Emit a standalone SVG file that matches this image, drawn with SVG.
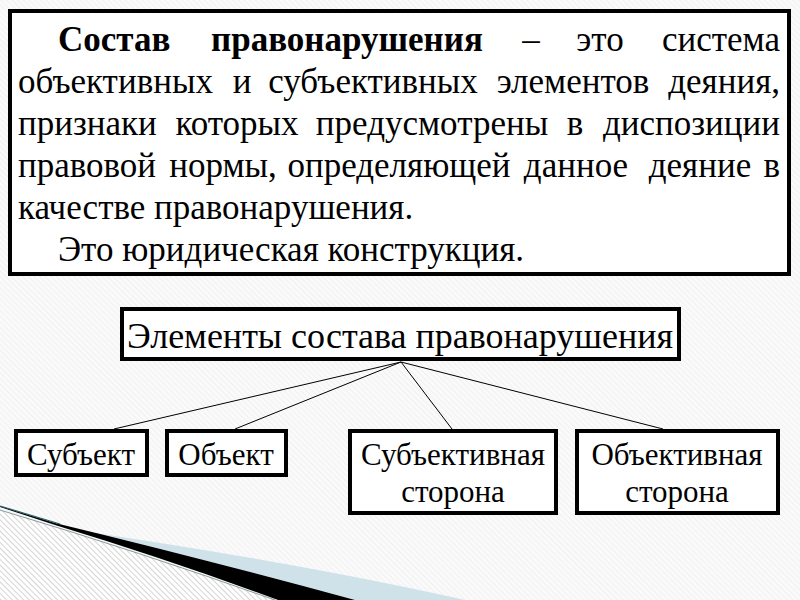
<svg xmlns="http://www.w3.org/2000/svg" width="800" height="600" viewBox="0 0 800 600">
  <defs>
    <pattern id="hatch" width="4" height="4" patternUnits="userSpaceOnUse" patternTransform="rotate(-45)">
      <rect width="4" height="4" fill="#fafafa"/>
      <line x1="0" y1="0" x2="0" y2="4" stroke="#ececec" stroke-width="1.2"/>
    </pattern>
    <pattern id="hatch2" width="4" height="4" patternUnits="userSpaceOnUse" patternTransform="rotate(-45)">
      <rect width="4" height="4" fill="#ffffff"/>
      <line x1="0" y1="0" x2="0" y2="4" stroke="#bdbdbd" stroke-width="1.3"/>
    </pattern>
    <style>
      .box { fill: #ffffff; stroke: #000000; stroke-width: 4; }
      .t { font-family: "Liberation Serif", "Times New Roman", serif; fill: #000000; }
      .main { font-size: 35px; }
      .b { font-weight: bold; }
      .lbl { font-size: 36px; }
      .sm { font-size: 31px; text-anchor: middle; }
      .mid { text-anchor: middle; }
      .end { text-anchor: end; }
      .conn line { stroke: #000000; stroke-width: 1; }
    </style>
  </defs>

  <!-- background -->
  <rect x="0" y="0" width="800" height="600" fill="url(#hatch)"/>
  <!-- bottom-left swoosh -->
  <path d="M0,510 Q140,552 275,600 L0,600 Z" fill="url(#hatch2)"/>
  <path d="M0,510 Q140,552 275,600" fill="none" stroke="#8a9a9f" stroke-width="1"/>
  <path d="M75,530 Q300,563 465,600 L355,600 Q230,565 75,530 Z" fill="#cfe2ea"/>
  <path d="M0,506 L55,523 Q200,558 355,600 L278,600 Q170,560 55,525 L0,507 Z" fill="#000000"/>
  <path d="M0,506 L60,524" stroke="#2f5f6a" stroke-width="1.2" fill="none"/>

  <!-- definition box -->
  <g id="definition">
    <rect class="box" x="10" y="11" width="779" height="263"/>
    <text class="t main b" x="58" y="51">Состав</text>
    <text class="t main b mid" x="347" y="51">правонарушения</text>
    <text class="t main mid" x="531" y="51">–</text>
    <text class="t main mid" x="600" y="51">это</text>
    <text class="t main end" x="780" y="51">система</text>

    <text class="t main" x="18" y="93">объективных</text>
    <text class="t main mid" x="242" y="93">и</text>
    <text class="t main mid" x="373" y="93">субъективных</text>
    <text class="t main mid" x="573" y="93">элементов</text>
    <text class="t main end" x="780" y="93">деяния,</text>

    <text class="t main" x="18" y="135">признаки</text>
    <text class="t main mid" x="237" y="135">которых</text>
    <text class="t main mid" x="432" y="135">предусмотрены</text>
    <text class="t main mid" x="575" y="135">в</text>
    <text class="t main end" x="780" y="135">диспозиции</text>

    <text class="t main" x="18" y="177">правовой</text>
    <text class="t main mid" x="223" y="177">нормы,</text>
    <text class="t main mid" x="399" y="177">определяющей</text>
    <text class="t main mid" x="576" y="177">данное</text>
    <text class="t main mid" x="700" y="177">деяние</text>
    <text class="t main end" x="780" y="177">в</text>

    <text class="t main" x="18" y="219">качестве правонарушения.</text>
    <text class="t main" x="58" y="261">Это юридическая конструкция.</text>
  </g>

  <!-- connectors -->
  <g id="connectors" class="conn">
    <line x1="401" y1="362" x2="114" y2="429"/>
    <line x1="401" y1="362" x2="235" y2="429"/>
    <line x1="401" y1="362" x2="452" y2="429"/>
    <line x1="401" y1="362" x2="663" y2="429"/>
  </g>

  <g id="elements">
    <rect class="box" x="122" y="309" width="557" height="50"/>
    <text class="t lbl mid" x="400" y="348">Элементы состава правонарушения</text>
  </g>
  <g id="subject">
    <rect class="box" x="16" y="431" width="131" height="44"/>
    <text class="t sm" x="81" y="465">Субъект</text>
  </g>
  <g id="object">
    <rect class="box" x="167" y="431" width="119" height="44"/>
    <text class="t sm" x="226" y="465">Объект</text>
  </g>
  <g id="subjective-side">
    <rect class="box" x="350" y="431" width="206" height="82"/>
    <text class="t sm" x="453" y="465">Субъективная</text>
    <text class="t sm" x="453" y="502">сторона</text>
  </g>
  <g id="objective-side">
    <rect class="box" x="577" y="431" width="201" height="82"/>
    <text class="t sm" x="677" y="465">Объективная</text>
    <text class="t sm" x="677" y="502">сторона</text>
  </g>
</svg>
